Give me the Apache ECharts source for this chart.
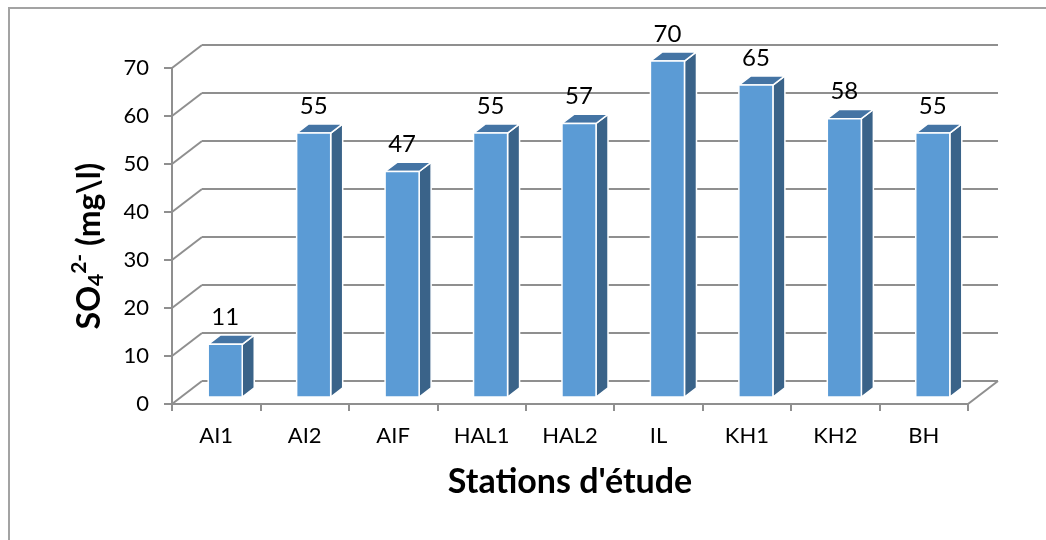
<!DOCTYPE html>
<html>
<head>
<meta charset="utf-8">
<script src="https://cdn.jsdelivr.net/npm/echarts@6/dist/echarts.min.js"></script>
<style>
  html, body { margin: 0; padding: 0; background: #fff; }
  #chart { width: 1046px; height: 540px; }
</style>
</head>
<body>
<div id="chart"></div>
<script>
// Sulfate concentration per sampling station
const stations = ['AI1', 'AI2', 'AIF', 'HAL1', 'HAL2', 'IL', 'KH1', 'KH2', 'BH'];
const sulfate = [11, 55, 47, 55, 57, 70, 65, 58, 55];
const yTicks = [0, 10, 20, 30, 40, 50, 60, 70];

// pseudo-3D geometry (pixels / fractions of the category band)
const DEPTH_X = 30, DEPTH_Y = -23;      // offset from front plane to back wall
const BAR_FRONT = 0.3, BAR_DEPTH = 0.4; // bar position inside the depth
const BAR_WIDTH = 0.385;                // bar width as share of band
const GRID_COLOR = '#8f8f8f';
const FONT = 'Lato, "Open Sans", sans-serif';

function renderWall(params, api) {
  const v = api.value(1);
  const cs = params.coordSys;
  const y = api.coord([0, v])[1];
  const x0 = cs.x, x1 = cs.x + cs.width;
  const style = { stroke: GRID_COLOR, lineWidth: 2, fill: null };
  const children = [
    { type: 'line', shape: { x1: x0, y1: y, x2: x0 + DEPTH_X, y2: y + DEPTH_Y }, style },
    { type: 'line', shape: { x1: x0 + DEPTH_X, y1: y + DEPTH_Y, x2: x1 + DEPTH_X, y2: y + DEPTH_Y }, style }
  ];
  if (v === 0) {
    children.push({ type: 'line', shape: { x1: x1, y1: y, x2: x1 + DEPTH_X, y2: y + DEPTH_Y }, style });
  }
  return { type: 'group', children };
}

function renderBar(params, api) {
  const i = api.value(0), v = api.value(1);
  const base = api.coord([i, 0]);
  const top = api.coord([i, v]);
  const bw = api.size([1, 0])[0];
  const w = bw * BAR_WIDTH;
  const ox = DEPTH_X * BAR_FRONT, oy = DEPTH_Y * BAR_FRONT;
  const dx = DEPTH_X * BAR_DEPTH, dy = DEPTH_Y * BAR_DEPTH;
  const xl = base[0] - w / 2 + ox, xr = xl + w;
  const yb = base[1] + oy, yt = top[1] + oy;
  const edge = { stroke: '#ffffff', lineWidth: 1.5, lineJoin: 'round' };
  return {
    type: 'group',
    children: [
      { type: 'polygon', shape: { points: [[xr, yt], [xr + dx, yt + dy], [xr + dx, yb + dy], [xr, yb]] },
        style: Object.assign({ fill: '#3a6389' }, edge) },
      { type: 'polygon', shape: { points: [[xl, yt], [xl + dx, yt + dy], [xr + dx, yt + dy], [xr, yt]] },
        style: Object.assign({ fill: '#4474a4' }, edge) },
      { type: 'rect', shape: { x: xl, y: yt, width: w, height: yb - yt },
        style: Object.assign({ fill: '#5b9bd5' }, edge) },
      { type: 'text', x: (xl + xr) / 2, y: yt + dy - 6,
        style: { text: String(v), fill: '#000', font: '24px ' + FONT, align: 'center', verticalAlign: 'bottom' } }
    ]
  };
}

const chart = echarts.init(document.getElementById('chart'));
chart.setOption({
  animation: false,
  backgroundColor: '#ffffff',
  grid: { left: 172, right: 78, top: 68, bottom: 136 },
  graphic: [{
    type: 'rect', z: -10, silent: true,
    shape: { x: 9, y: 8, width: 1100, height: 600 },
    style: { fill: null, stroke: '#a3a3a3', lineWidth: 2 }
  }],
  xAxis: {
    type: 'category',
    data: stations,
    boundaryGap: true,
    axisLine: { lineStyle: { color: GRID_COLOR, width: 2 } },
    axisTick: { show: true, interval: 0, length: 7, lineStyle: { color: GRID_COLOR, width: 2 } },
    axisLabel: { interval: 0, margin: 21, color: '#000', fontSize: 22, fontFamily: FONT },
    name: "Stations d'étude",
    nameLocation: 'middle',
    nameGap: 61,
    nameTextStyle: { color: '#000', fontSize: 34, fontWeight: 'bold', fontFamily: FONT }
  },
  yAxis: {
    type: 'value',
    min: 0, max: 70, interval: 10,
    axisLine: { show: true, lineStyle: { color: GRID_COLOR, width: 2 } },
    axisTick: { show: true, length: 8, lineStyle: { color: GRID_COLOR, width: 2 } },
    splitLine: { show: false },
    axisLabel: {
      margin: 23, color: '#000', fontSize: 22, fontFamily: FONT,
      formatter: (val) => yTicks.includes(val) ? String(val) : ''
    },
    name: '{m|SO}{sub|4}{sup|2-}{m| (mg\\l)}',
    nameLocation: 'middle',
    nameRotate: 90,
    nameGap: 62,
    nameTextStyle: {
      color: '#000', fontFamily: FONT, fontWeight: 'bold',
      padding: [0, 20, 0, 0],
      rich: {
        m: { fontSize: 32, fontWeight: 'bold', fontFamily: FONT, color: '#000', verticalAlign: 'middle' },
        sub: { fontSize: 21, fontWeight: 'bold', fontFamily: FONT, color: '#000', verticalAlign: 'middle', padding: [14, 0, 0, 0] },
        sup: { fontSize: 21, fontWeight: 'bold', fontFamily: FONT, color: '#000', verticalAlign: 'middle', padding: [0, 0, 20, 0] }
      }
    }
  },
  series: [
    {
      type: 'custom', z: 1, silent: true,
      renderItem: renderWall,
      encode: { x: 0, y: 1 },
      data: yTicks.map(v => [0, v])
    },
    {
      type: 'custom', z: 2, silent: true,
      renderItem: renderBar,
      encode: { x: 0, y: 1 },
      data: sulfate.map((v, i) => [i, v])
    }
  ]
});
</script>
</body>
</html>
